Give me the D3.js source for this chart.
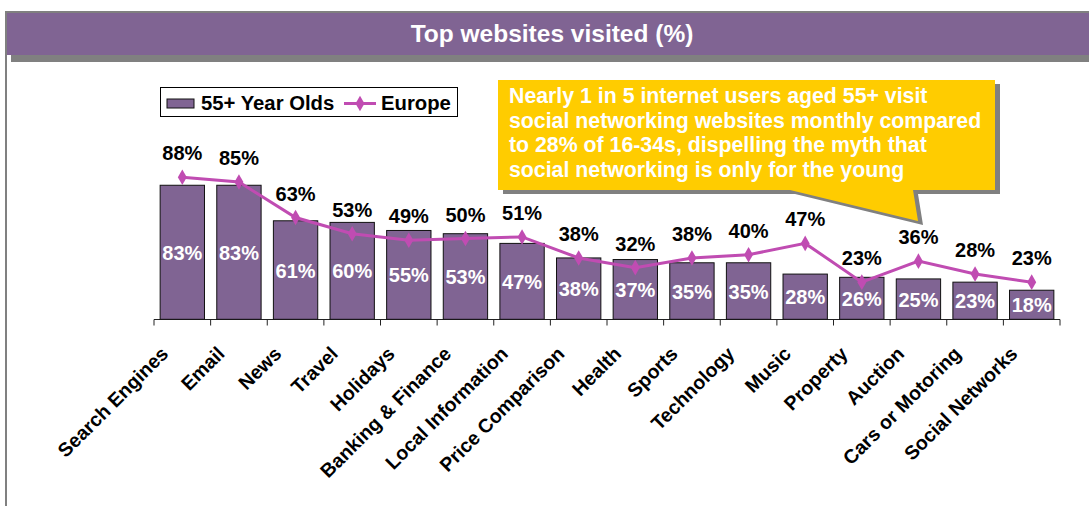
<!DOCTYPE html>
<html><head><meta charset="utf-8">
<script src="https://cdn.jsdelivr.net/npm/d3@7"></script>
<style>
html,body{margin:0;padding:0;background:#fff;}
svg{display:block;font-family:Arial,"Liberation Sans",sans-serif;font-weight:bold;}
</style></head>
<body>
<svg id="chart" width="1089" height="506"></svg>
<script>
const categories = ["Search Engines","Email","News","Travel","Holidays","Banking & Finance","Local Information","Price Comparison","Health","Sports","Technology","Music","Property","Auction","Cars or Motoring","Social Networks"];
const olds55 = [83,83,61,60,55,53,47,38,37,35,35,28,26,25,23,18];
const europe = [88,85,63,53,49,50,51,38,32,38,40,47,23,36,28,23];
const seriesNames = ["55+ Year Olds","Europe"];
const title = "Top websites visited (%)";
const calloutLines = ["Nearly 1 in 5 internet users aged 55+ visit","social networking websites monthly compared","to 28% of 16-34s, dispelling the myth that","social networking is only for the young"];

const purple = "#806493", magenta = "#C04CB2", yellow = "#FFCC00", grey = "#808080";
const svg = d3.select("#chart");

// frame + title bar
svg.append("rect").attr("x",5).attr("y",11).attr("width",2).attr("height",495).attr("fill",grey);
svg.append("rect").attr("x",5).attr("y",11).attr("width",1084).attr("height",2).attr("fill",grey);
svg.append("rect").attr("x",11).attr("y",55).attr("width",1078).attr("height",7).attr("fill",grey);
svg.append("rect").attr("x",7).attr("y",13).attr("width",1082).attr("height",42).attr("fill",purple);
svg.append("text").attr("x",552).attr("y",42).attr("text-anchor","middle").attr("fill","#fff").attr("font-size",24.5).text(title);

// scales
const x = d3.scaleBand().domain(categories).range([154,1060]).paddingInner(0.217).paddingOuter(0.1085);
const y = d3.scaleLinear().domain([0,100]).range([319.3,157.8]);

// axis
const axisG = svg.append("g").attr("transform","translate(0,319.5)");
axisG.append("line").attr("x1",154).attr("x2",1060).attr("stroke","#222").attr("stroke-width",1);
const step = x.step();
axisG.selectAll("line.tick").data(d3.range(categories.length+1)).join("line")
  .attr("class","tick").attr("x1",i=>154+i*step).attr("x2",i=>154+i*step).attr("y1",0).attr("y2",6)
  .attr("stroke","#222").attr("stroke-width",1);

// bars
svg.selectAll("rect.bar").data(categories).join("rect").attr("class","bar")
  .attr("x",d=>x(d)).attr("width",x.bandwidth())
  .attr("y",(d,i)=>y(olds55[i])).attr("height",(d,i)=>y(0)-y(olds55[i]))
  .attr("fill",purple).attr("stroke","#111").attr("stroke-width",1);

// bar labels
svg.selectAll("text.blab").data(categories).join("text").attr("class","blab")
  .attr("x",d=>x(d)+x.bandwidth()/2).attr("y",(d,i)=>(y(olds55[i])+y(0))/2+7.5)
  .attr("text-anchor","middle").attr("fill","#fff").attr("font-size",20)
  .text((d,i)=>olds55[i]+"%");

// europe line
const cx = d=>x(d)+x.bandwidth()/2;
svg.append("path").datum(categories)
  .attr("d",d3.line().x(cx).y((d,i)=>y(europe[i])))
  .attr("fill","none").attr("stroke",magenta).attr("stroke-width",3);
const diamond = d3.symbol().type(d3.symbolDiamond).size(70);
svg.selectAll("path.pt").data(categories).join("path").attr("class","pt")
  .attr("d",diamond).attr("transform",(d,i)=>`translate(${cx(d)},${y(europe[i])})`).attr("fill",magenta);
svg.selectAll("text.elab").data(categories).join("text").attr("class","elab")
  .attr("x",cx).attr("y",(d,i)=>y(europe[i])-17)
  .attr("text-anchor","middle").attr("fill","#000").attr("font-size",20)
  .text((d,i)=>europe[i]+"%");

// x labels
svg.selectAll("text.xl").data(categories).join("text").attr("class","xl")
  .attr("transform",d=>`translate(${cx(d)-13},355) rotate(-45)`)
  .attr("text-anchor","end").attr("fill","#000").attr("font-size",19.5).text(d=>d);

// legend
const lg = svg.append("g");
lg.append("rect").attr("x",160.5).attr("y",87.5).attr("width",297).attr("height",29).attr("fill","#fff").attr("stroke","#000");
lg.append("rect").attr("x",167).attr("y",99).attr("width",27).attr("height",9).attr("fill",purple).attr("stroke","#111");
lg.append("text").attr("x",201).attr("y",110).attr("font-size",20.3).attr("fill","#000").text(seriesNames[0]);
lg.append("line").attr("x1",344).attr("x2",376).attr("y1",103.5).attr("y2",103.5).attr("stroke",magenta).attr("stroke-width",3);
lg.append("path").attr("d",diamond).attr("transform","translate(360,103.5)").attr("fill",magenta);
lg.append("text").attr("x",381).attr("y",110).attr("font-size",20.3).attr("fill","#000").text(seriesNames[1]);

// callout
const shape = "M498,80 L995,80 L995,190 L913,190 L918,221 L790,190 L498,190 Z";
svg.append("path").attr("d",shape).attr("transform","translate(5,4)").attr("fill",grey);
svg.append("path").attr("d",shape).attr("fill",yellow);
svg.selectAll("text.co").data(calloutLines).join("text").attr("class","co")
  .attr("x",509).attr("y",(d,i)=>103+i*24.6).attr("fill","#fff").attr("font-size",21.3).text(d=>d);
</script>
</body></html>
